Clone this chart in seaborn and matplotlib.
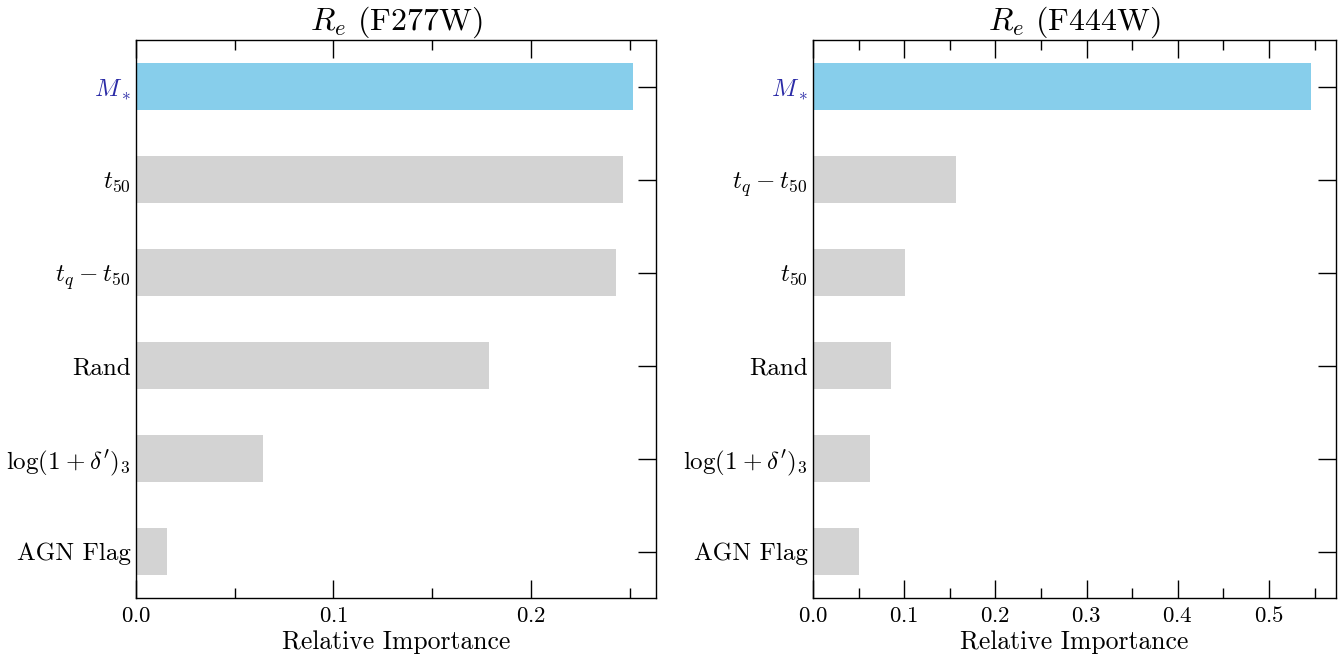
import matplotlib
matplotlib.use("Agg")
import matplotlib.pyplot as plt
import seaborn as sns
import pandas as pd
from matplotlib.ticker import MultipleLocator

sns.set_theme(style="white")
plt.rcParams['font.family'] = ['cmr10']
plt.rcParams['mathtext.fontset'] = 'cm'
plt.rcParams['axes.formatter.use_mathtext'] = True
plt.rcParams['axes.unicode_minus'] = False
for k in ['text.color', 'axes.labelcolor', 'xtick.color', 'ytick.color', 'axes.edgecolor']:
    plt.rcParams[k] = 'black'

# Left panel: R_e (F277W)
labels_277 = [r"$M_*$", r"$t_{50}$", r"$t_q\:-\:t_{50}$", "Rand", r"$\log(1\:+\:\delta')_3$", "AGN Flag"]
values_277 = [0.2516, 0.2466, 0.2430, 0.1785, 0.0643, 0.0157]

# Right panel: R_e (F444W)
labels_444 = [r"$M_*$", r"$t_q\:-\:t_{50}$", r"$t_{50}$", "Rand", r"$\log(1\:+\:\delta')_3$", "AGN Flag"]
values_444 = [0.546, 0.157, 0.101, 0.0855, 0.0625, 0.0504]

titles = [r"$R_e$ (F277W)", r"$R_e$ (F444W)"]
xlims = [0.2633, 0.5735]
major_steps = [0.1, 0.1]
minor_steps = [0.05, 0.05]

highlight = "#87CEEB"
base = "#D3D3D3"
label_highlight = "#2a2aa6"

fig = plt.figure(figsize=(13.44, 6.57), dpi=100)
W, H = 1344, 657
ax1 = fig.add_axes([136 / W, 1 - 598 / H, (656 - 136) / W, (598 - 40) / H])
ax2 = fig.add_axes([813 / W, 1 - 598 / H, (1336 - 813) / W, (598 - 40) / H])

for ax, labels, values, title, xl, mj, mn in zip(
        [ax1, ax2], [labels_277, labels_444], [values_277, values_444],
        titles, xlims, major_steps, minor_steps):
    df = pd.DataFrame({"feature": labels, "importance": values})
    pal = {lab: (highlight if lab == r"$M_*$" else base) for lab in labels}
    sns.barplot(data=df, x="importance", y="feature", hue="feature",
                palette=pal, legend=False, width=0.5, ax=ax,
                saturation=1, edgecolor="none", linewidth=0)
    ax.set_xlim(0, xl)
    ax.set_ylim(5.5, -0.5)
    ax.set_ylabel("")
    ax.set_xlabel("Relative Importance", fontsize=18.5, labelpad=3)
    ax.set_title(title, fontsize=23, pad=3)
    ax.xaxis.set_major_locator(MultipleLocator(mj))
    ax.xaxis.set_minor_locator(MultipleLocator(mn))
    ax.tick_params(axis="x", which="major", direction="in", length=13,
                   width=1, top=True, bottom=True, labelsize=16.5, pad=6)
    ax.tick_params(axis="y", which="major", direction="in", length=13,
                   width=1, left=True, right=True, labelsize=18, pad=4)
    ax.tick_params(axis="x", which="minor", direction="in", length=7,
                   width=1, top=True, bottom=True)
    ax.tick_params(axis="y", which="minor", left=False, right=False)
    for lab in ax.get_yticklabels():
        if lab.get_text() == r"$M_*$":
            lab.set_color(label_highlight)
    for s in ax.spines.values():
        s.set_color("black")
        s.set_linewidth(1)
    ax.grid(False)

fig.savefig("out.png", dpi=100)
